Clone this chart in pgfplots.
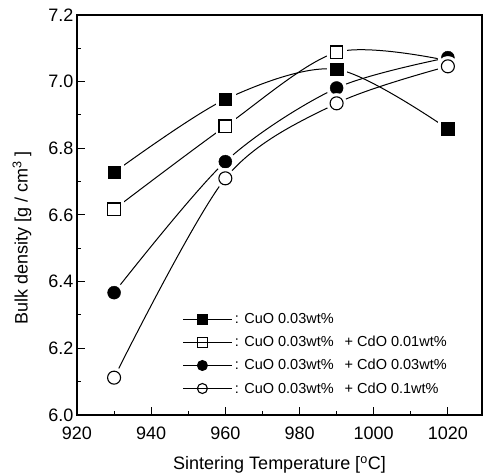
\documentclass[border=0pt]{standalone}
\usepackage{fontspec}
\setmainfont{Liberation Sans}
\usepackage{pgfplots}
\pgfplotsset{compat=1.18}
\pgfplotstableread{
x y
930 6.728
960 6.947
990 7.037
1020 6.858
}\sA
\pgfplotstableread{
x y
930 6.617
960 6.866
990 7.088
1020 7.063
}\sB
\pgfplotstableread{
x y
930 6.367
960 6.760
990 6.981
1020 7.072
}\sC
\pgfplotstableread{
x y
930 6.112
960 6.710
990 6.935
1020 7.046
}\sD
\pgfplotsset{
  myleg/.style={legend image code/.code={
    \draw[black,line width=1pt,mark=none] (0pt,0pt)--(49pt,0pt);
    \draw[black,line width=1pt] plot[only marks,mark=#1,mark size=5pt] coordinates {(19pt,0pt)};}},
}
\begin{document}
\begin{tikzpicture}
\begin{axis}[
  scale only axis, width=405pt, height=400pt,
  xmin=920, xmax=1029.2, ymin=6.0, ymax=7.2,
  xtick={920,940,...,1020}, ytick={6.0,6.2,...,7.2},
  minor x tick num=1, minor y tick num=1,
  tick align=inside, tick pos=left,
  major tick length=8pt, minor tick length=4pt,
  every tick/.style={black, line width=1pt},
  axis line style={line width=1.2pt},
  yticklabel style={/pgf/number format/fixed,/pgf/number format/fixed zerofill,/pgf/number format/precision=1},
  xticklabel style={/pgf/number format/1000 sep={}, yshift=-8pt},
  /pgf/number format/assume math mode=true,
  ticklabel style={font=\fontsize{18}{20}\selectfont},
  label style={font=\fontsize{18}{20}\selectfont},
  xlabel={Sintering Temperature [\textsuperscript{o}C]},
  ylabel={Bulk density [g / cm\textsuperscript{3} ]},
  xlabel style={at={(axis description cs:0.5,-0.125)}, anchor=center},
  ylabel style={at={(axis description cs:-0.136,0.443)}, anchor=center},
  legend style={at={(axis cs:948.5,6.31)}, anchor=north west, draw=none, fill=none,
    font=\fontsize{14.5}{16}\selectfont, inner sep=0pt, row sep=7pt},
  legend cell align=left,
]
\coordinate (SW) at (rel axis cs:0,0);
% series 1: filled square
\addplot[black, line width=1pt, smooth, mark=none, forget plot] table {\sA};
\addplot[white, only marks, mark=square*, mark size=9.5pt, forget plot] table {\sA};
\addplot[black, only marks, mark=square*, mark size=6.3pt, myleg=square*] table {\sA};
\addlegendentry{: CuO 0.03wt\%}
% series 2: open square
\addplot[black, line width=1pt, smooth, mark=none, forget plot] table {\sB};
\addplot[white, only marks, mark=square*, mark size=9.5pt, forget plot] table {\sB};
\addplot[black, only marks, mark=square*, mark options={fill=white, line width=1.1pt}, mark size=6.3pt, myleg=square] table {\sB};
\addlegendentry{: CuO 0.03wt\%\hspace{11pt}+ CdO 0.01wt\%}
% series 3: filled circle
\addplot[black, line width=1pt, smooth, mark=none, forget plot] table {\sC};
\addplot[white, only marks, mark=*, mark size=10pt, forget plot] table {\sC};
\addplot[black, only marks, mark=*, mark size=6.5pt, myleg=*] table {\sC};
\addlegendentry{: CuO 0.03wt\%\hspace{11pt}+ CdO 0.03wt\%}
% series 4: open circle
\addplot[black, line width=1pt, smooth, mark=none, forget plot] table {\sD};
\addplot[white, only marks, mark=*, mark size=10pt, forget plot] table {\sD};
\addplot[black, only marks, mark=*, mark options={fill=white, line width=1.1pt}, mark size=6.5pt, myleg=o] table {\sD};
\addlegendentry{: CuO 0.03wt\%\hspace{11pt}+ CdO 0.1wt\%}
\end{axis}
\pgfresetboundingbox
\useasboundingbox (SW) ++(-77pt,-61pt) rectangle ++(483pt,476pt);
\end{tikzpicture}
\end{document}
